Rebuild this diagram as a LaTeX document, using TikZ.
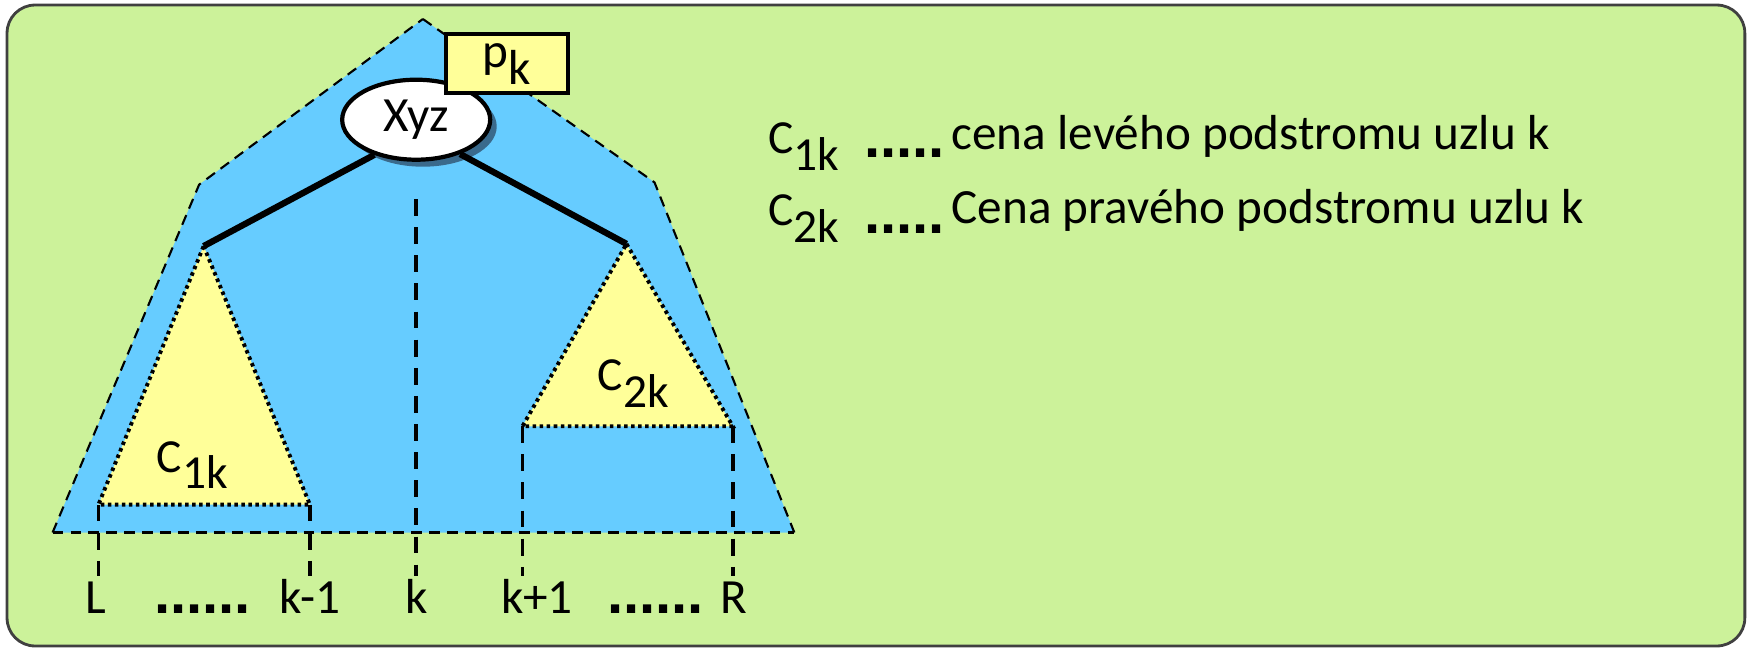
\documentclass[tikz,border=0pt]{standalone}
\usepackage{fontspec}
\setmainfont{Carlito}
\newfontfamily\dotfont{Liberation Sans}
\usetikzlibrary{positioning,calc,shapes.geometric}
\definecolor{bggreen}{HTML}{CCF29A}
\definecolor{treeblue}{HTML}{66CCFF}
\definecolor{subyellow}{HTML}{FFFF99}
\definecolor{shadowblue}{HTML}{3A6A8C}
\newcommand{\lowsub}[1]{\raisebox{-4.8pt}{#1}}
\newcommand{\bigdots}[1]{{\dotfont\bfseries\fontsize{16.5}{16.5}\selectfont #1}}

\begin{document}
\begin{tikzpicture}[x=0.11188mm,y=-0.11188mm,font=\fontsize{14}{16}\selectfont,
  cut/.style={black,line width=1pt,dash pattern=on 4.8pt off 3.2pt},
  hull/.style={black,line width=0.6pt,dash pattern=on 3pt off 2pt},
  base/.style={black,line width=0.8pt,dash pattern=on 3.1pt off 2pt},
  subtree/.style={fill=subyellow,draw=black,line width=1.1pt,dash pattern=on 1pt off 1pt},
  edge/.style={black,line width=1.8pt},
  lbl/.style={inner sep=0pt,anchor=base}]
  \useasboundingbox (0,0) rectangle (1566,582.8);

  % FRAME
  \draw[fill=bggreen,draw=black!75,line width=0.8pt,rounded corners=2.8mm]
  (6.3,4.5) rectangle (1559.6,577.4);

  % TREE HULL
  \coordinate (top) at (378,17);
  \coordinate (lsh) at (178,165);
  \coordinate (rsh) at (585,163);
  \coordinate (lb) at (47,476);
  \coordinate (rb) at (710,476);
  \fill[treeblue] (top) -- (rsh) -- (rb) -- (lb) -- (lsh) -- cycle;
  \draw[hull] (top) -- (rsh) -- (rb) (lb) -- (lsh) -- (top);

  % SUBTREES
  \coordinate (lapex) at (182,220);
  \coordinate (rapex) at (560,218);
  \draw[subtree] (lapex) -- (277,451) -- (88,451) -- cycle;
  \draw[subtree] (rapex) -- (655,381) -- (467,381) -- cycle;
  \node[lbl,font=\fontsize{13.5}{15}\selectfont] (c1) at (172,422) {C\lowsub{1k}};
  \node[lbl,font=\fontsize{13.5}{15}\selectfont] (c2) at (566,349) {C\lowsub{2k}};

  % CUTS
  \draw[cut] (372,178) -- (372,515);
  \draw[cut] (88,451) -- (88,515);
  \draw[cut] (277,451) -- (277,515);
  \draw[cut] (467,381) -- (467,515);
  \draw[cut] (655,381) -- (655,515);
  \draw[base] (lb) -- (rb);

  % ROOT
  \fill[shadowblue] (378,113) ellipse (66 and 36);
  \node[ellipse,draw=black,line width=1.2pt,fill=white,minimum width=14.8mm,
    minimum height=8mm,inner sep=0pt] (root) at (372,107) {Xyz};
  \draw[edge] (root.220) -- (lapex);
  \draw[edge] (root.322) -- (rapex);
  \node[draw=black,line width=1.2pt,fill=subyellow,minimum width=12.2mm,
    minimum height=5.9mm,inner sep=0pt] (pk) at (453,57) {p\lowsub{k}};

  % INDICES
  \node[lbl] (iL) at (86,548) {L};
  \node[lbl] (d1) at (181,548) {\bigdots{......}};
  \node[lbl] (ik1) at (277,548) {k-1};
  \node[lbl] (ik) at (372,548) {k};
  \node[lbl] (ik2) at (480,548) {k+1};
  \node[lbl] (d2) at (586,548) {\bigdots{......}};
  \node[lbl] (iR) at (656,548) {R};

  % LEGEND
  \node[lbl,anchor=base west,font=\fontsize{13.5}{15}\selectfont] (lc1) at (686,137) {C\lowsub{1k}};
  \node[lbl,anchor=base west] (ld1) at (772,141) {\bigdots{.....}};
  \node[lbl,anchor=base west] (lt1) at (850,134) {cena levého podstromu uzlu k};
  \node[lbl,anchor=base west,font=\fontsize{13.5}{15}\selectfont] (lc2) at (686,202) {C\lowsub{2k}};
  \node[lbl,anchor=base west] (ld2) at (772,209) {\bigdots{.....}};
  \node[lbl,anchor=base west] (lt2) at (850,200) {Cena pravého podstromu uzlu k};
\end{tikzpicture}
\end{document}
